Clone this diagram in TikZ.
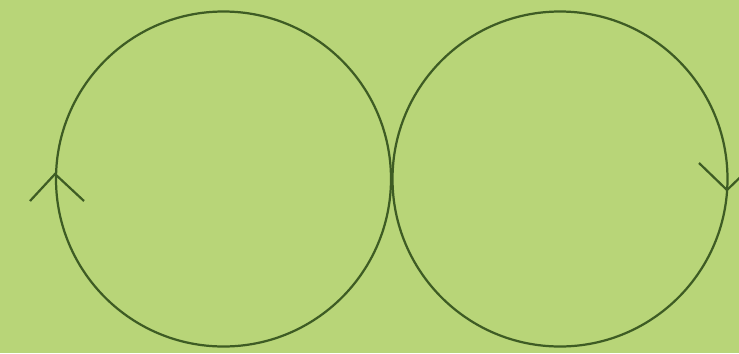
\documentclass[tikz,border=0pt]{standalone}
\usepackage{tikz}
\usetikzlibrary{positioning}
\definecolor{bgcolor}{RGB}{184,213,120}
\definecolor{linecolor}{RGB}{62,92,36}

\begin{document}
\begin{tikzpicture}[x=0.3mm,y=-0.3mm, loop/.style={linecolor, line width=1.9pt}]
    \fill[bgcolor] (0,0) rectangle (739,353);
    \clip (0,0) rectangle (739,353);
    \coordinate (cl) at (223.5,179);
    \coordinate (cr) at (560,179);
    \draw[loop] (cl) circle (167.5);
    \draw[loop] (cr) circle (167.5);
    % arrowheads
    \coordinate (tipl) at (55,174);
    \coordinate (tipr) at (727,190);
    \draw[loop] (30,201) -- (tipl) -- (84,201);
    \draw[loop] (699,163) -- (tipr) -- (755,163);
  \end{tikzpicture}
\end{document}
